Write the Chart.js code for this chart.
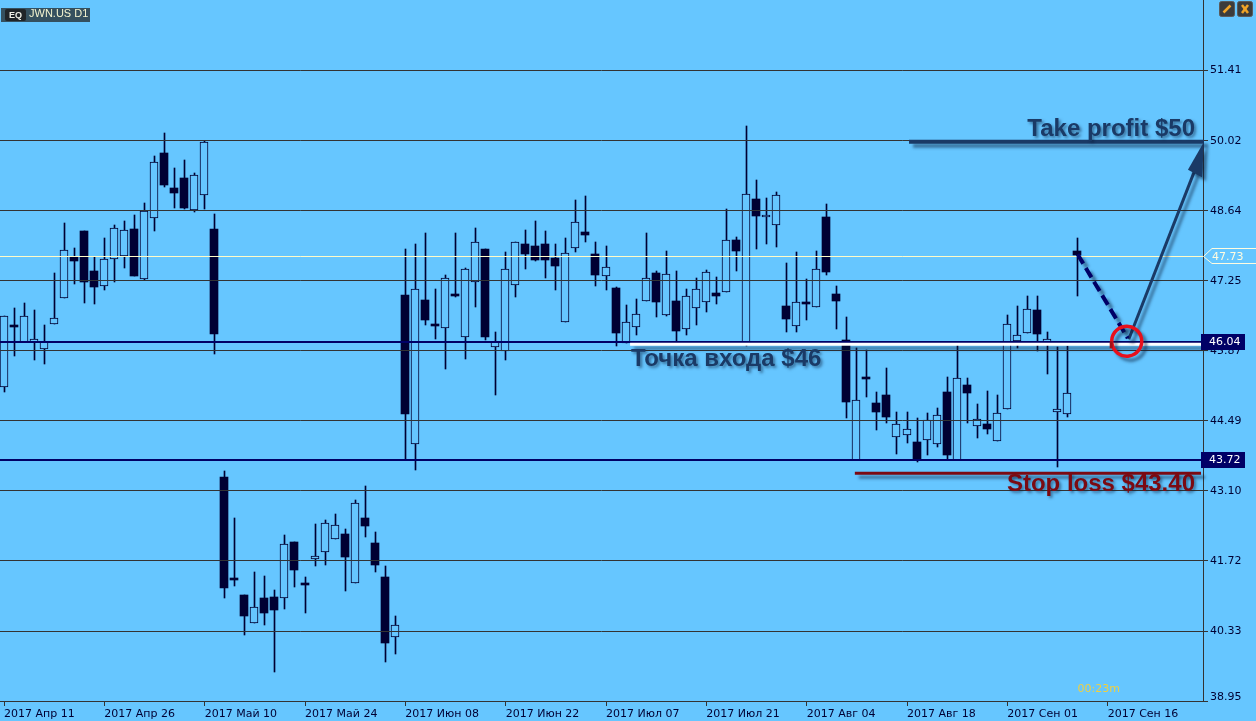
<!DOCTYPE html>
<html>
<head>
<meta charset="utf-8">
<title>JWN.US D1</title>
<style>
  html, body { margin: 0; padding: 0; background: #66c6ff; }
  canvas { display: block; }
</style>
<script src="https://cdn.jsdelivr.net/npm/chart.js@4/dist/chart.umd.js"></script>
</head>
<body>
<canvas id="chart" width="1256" height="721"></canvas>
<script>
const dateLabels = ['2017 Апр 11', '2017 Апр 26', '2017 Май 10', '2017 Май 24', '2017 Июн 08', '2017 Июн 22',
  '2017 Июл 07', '2017 Июл 21', '2017 Авг 04', '2017 Авг 18', '2017 Сен 01', '2017 Сен 16'];
const priceTicks = [38.95, 40.33, 41.72, 43.10, 44.49, 45.87, 47.25, 48.64, 50.02, 51.41];

const opens = [
  45.16,46.38,46.04,46.04,45.91,46.41,46.92,47.72,48.24,47.44,
  47.15,47.68,47.75,48.27,47.28,48.49,49.77,49.08,49.28,48.65,
  48.94,48.27,43.37,41.38,41.04,40.50,40.98,41.00,40.98,42.09,
  41.28,41.76,41.89,42.16,42.26,41.28,42.56,42.07,41.41,40.21,
  46.97,44.02,46.87,46.40,46.32,46.99,46.14,47.24,47.88,45.94,
  45.87,47.18,47.98,47.95,47.99,47.70,46.43,47.90,48.22,47.78,
  47.34,47.11,46.02,46.35,46.86,47.40,46.58,46.85,46.31,46.71,
  46.84,47.01,47.03,48.07,46.00,48.88,48.51,48.35,46.75,46.36,
  46.83,46.73,48.51,46.99,46.08,43.72,45.35,44.83,44.99,44.16,
  44.20,44.06,44.10,44.02,45.05,43.72,45.19,44.38,44.42,44.08,
  44.72,46.07,46.22,46.67,46.02,44.67,44.62,47.84];
const closes = [
  46.55,46.34,46.55,46.10,46.04,46.51,47.86,47.65,47.24,47.14,
  47.68,48.29,48.25,47.34,48.63,49.61,49.15,48.99,48.70,49.34,
  49.99,46.21,41.19,41.37,40.62,40.80,40.68,40.75,42.05,41.54,
  41.27,41.81,42.46,42.42,41.80,42.86,42.41,41.64,40.10,40.45,
  44.63,47.09,46.47,46.38,47.30,46.97,47.48,48.03,46.15,46.04,
  47.48,48.02,47.79,47.67,47.67,47.55,47.80,48.41,48.15,47.36,
  47.52,46.23,46.43,46.59,47.30,46.84,47.39,46.27,46.95,47.09,
  47.42,46.96,48.07,47.85,48.96,48.54,48.55,48.94,46.50,46.83,
  46.80,47.48,47.43,46.86,44.86,44.89,45.34,44.67,44.57,44.42,
  44.32,43.73,44.50,44.60,43.82,45.33,45.04,44.52,44.33,44.64,
  46.41,46.18,46.69,46.21,46.10,44.72,45.03,47.76];
const highs = [
  46.55,46.71,46.81,46.67,46.38,47.40,48.40,47.90,48.24,47.72,
  48.10,48.35,48.43,48.55,48.79,49.73,50.17,49.48,49.64,49.38,
  50.02,48.57,43.50,42.56,41.04,41.49,41.43,41.14,42.24,42.09,
  41.41,42.44,42.52,42.64,42.34,42.92,43.19,42.28,41.61,40.62,
  47.88,47.99,48.19,47.10,47.36,48.19,47.50,48.29,47.88,46.25,
  47.82,48.02,48.25,48.43,48.23,47.99,48.09,48.85,48.93,48.02,
  47.94,47.13,46.77,46.89,48.19,47.44,47.84,47.44,47.09,47.30,
  47.46,47.32,48.67,48.11,50.31,49.24,48.90,49.00,47.60,47.82,
  47.28,47.84,48.77,47.16,46.53,45.92,45.88,45.05,45.54,44.67,
  44.67,44.54,44.65,44.75,45.35,46.00,45.33,44.81,45.07,44.99,
  46.57,46.75,46.95,46.95,46.25,45.94,45.97,48.10];
const lows = [
  45.06,45.77,46.04,45.69,45.60,46.41,46.92,47.20,46.82,46.80,
  47.07,47.24,47.51,47.34,47.26,48.24,49.11,48.70,48.67,48.62,
  48.67,45.81,40.99,41.23,40.26,40.50,40.46,39.53,40.77,41.21,
  40.68,41.62,41.64,42.16,41.13,41.28,42.20,41.49,39.73,39.87,
  43.72,43.52,46.39,46.11,45.52,46.94,45.71,46.74,46.09,45.00,
  45.69,46.94,47.49,47.65,47.30,47.08,46.43,47.83,48.03,47.16,
  47.08,45.97,46.02,46.19,46.86,46.54,46.56,46.05,46.19,46.39,
  46.64,46.80,47.03,47.45,45.97,47.89,47.99,47.93,46.25,46.25,
  46.47,46.73,47.37,46.31,44.55,43.72,44.96,44.31,44.45,43.84,
  44.05,43.68,43.82,43.97,43.72,43.72,44.45,44.15,44.23,44.08,
  44.72,45.93,46.22,45.87,45.42,43.58,44.57,46.95];

const priceLine = 47.73;
const entryLevel = 46.04;
const supportLevel = 43.72;

const bg = '#66c6ff';
const ink = '#000033';
const navy = '#000066';
const grid = '#333333';
const steel = '#1a3a66';
const maroon = '#7b0a12';

const wicks = highs.map((h, i) => ({ x: i, y: [lows[i], h] }));
const upBodies = [];
const downBodies = [];
opens.forEach((o, i) => {
  (closes[i] > o ? upBodies : downBodies).push({ x: i, y: [o, closes[i]] });
});

// keep candles on whole pixels like the terminal does
const snapCandles = {
  id: 'snapCandles',
  afterDatasetsUpdate(chart) {
    chart.data.datasets.forEach((ds, d) => {
      chart.getDatasetMeta(d).data.forEach(el => {
        const col = Math.floor(el.x);
        el.x = ds.label === 'wick' ? col + 0.5 : col;
        el.y = Math.round(el.y);
        el.base = Math.round(el.base);
        if (ds.label !== 'wick' && Math.abs(el.base - el.y) < 2) el.base = el.y + 2;
      });
    });
  }
};

function withShadow(ctx, dist, fn) {
  ctx.save();
  ctx.shadowColor = 'rgba(10,30,60,0.5)';
  ctx.shadowOffsetX = dist;
  ctx.shadowOffsetY = dist;
  ctx.shadowBlur = 3;
  fn();
  ctx.restore();
}

function segment(ctx, x1, y1, x2, y2, color, width, dash) {
  ctx.beginPath();
  ctx.strokeStyle = color;
  ctx.lineWidth = width;
  ctx.setLineDash(dash || []);
  ctx.moveTo(x1, y1);
  ctx.lineTo(x2, y2);
  ctx.stroke();
  ctx.setLineDash([]);
}

function badge(ctx, y, text) {
  ctx.fillStyle = navy;
  ctx.fillRect(1201, Math.round(y) - 8, 44, 16);
  ctx.fillStyle = '#ffffff';
  ctx.font = '11px "DejaVu Sans"';
  ctx.textAlign = 'left';
  ctx.textBaseline = 'middle';
  ctx.fillText(text, 1209, Math.round(y) + 0.5);
}

const overlay = {
  id: 'overlay',
  afterDraw(chart) {
    const ctx = chart.ctx;
    const X = v => chart.scales.x.getPixelForValue(v);
    const Y = v => chart.scales.y.getPixelForValue(v);
    const area = chart.chartArea;
    ctx.save();

    // horizontal levels
    segment(ctx, area.left, Math.floor(Y(priceLine)) + 0.5, area.right, Math.floor(Y(priceLine)) + 0.5, '#fffcc8', 1);
    segment(ctx, area.left, Math.round(Y(entryLevel)), area.right, Math.round(Y(entryLevel)), navy, 2);
    segment(ctx, area.left, Math.round(Y(supportLevel)), area.right, Math.round(Y(supportLevel)), navy, 2);

    // drawn trade plan
    withShadow(ctx, 4, () => {
      segment(ctx, X(62.4), Y(46.0), X(120.3), Y(46.0), '#ffffff', 3);
      segment(ctx, X(90.2), Y(50.0), X(119.6), Y(50.0), steel, 4);
      segment(ctx, X(84.8), Y(43.45), X(119.3), Y(43.45), maroon, 3);
      segment(ctx, X(112.1), Y(46.1), X(119.0), Y(49.6), steel, 3);
      // arrow head
      ctx.beginPath();
      ctx.fillStyle = steel;
      ctx.moveTo(X(119.6), Y(50.0));
      ctx.lineTo(X(118.0), Y(49.45));
      ctx.lineTo(X(119.4), Y(49.3));
      ctx.closePath();
      ctx.fill();
      segment(ctx, X(107), Y(47.78), X(112), Y(46.12), navy, 4, [11, 5]);
    });
    withShadow(ctx, 2, () => {
      ctx.textBaseline = 'alphabetic';
      ctx.fillStyle = steel;
      ctx.font = 'bold 24px "Liberation Sans"';
      ctx.textAlign = 'right';
      ctx.fillText('Take profit $50', X(118.7), Y(50.12));
      ctx.textAlign = 'left';
      ctx.fillText('Точка входа $46', X(62.5), Y(45.57));
      ctx.fillStyle = maroon;
      ctx.textAlign = 'right';
      ctx.fillText('Stop loss $43.40', X(118.7), Y(43.1));
    });
    withShadow(ctx, 4, () => {
      // red ring round the entry
      ctx.beginPath();
      ctx.strokeStyle = '#e8101c';
      ctx.lineWidth = 3.5;
      ctx.arc(X(111.9), Y(46.06), 15, Math.PI * 0.95, Math.PI * 2.95);
      ctx.stroke();
    });
    segment(ctx, X(110.35), Y(46.06), X(110.35), Y(45.92), '#a01018', 3);

    // current price tag
    const py = Math.floor(Y(priceLine)) + 0.5;
    ctx.beginPath();
    ctx.strokeStyle = '#fffce0';
    ctx.lineWidth = 1;
    ctx.moveTo(1256, py - 8);
    ctx.lineTo(1212, py - 8);
    ctx.lineTo(1203.5, py);
    ctx.lineTo(1212, py + 7);
    ctx.lineTo(1256, py + 7);
    ctx.stroke();
    ctx.fillStyle = '#fffce0';
    ctx.font = '11px "DejaVu Sans"';
    ctx.textAlign = 'left';
    ctx.textBaseline = 'middle';
    ctx.fillText(priceLine.toFixed(2), 1212, py + 0.5);

    badge(ctx, Y(entryLevel), entryLevel.toFixed(2));
    badge(ctx, Y(supportLevel), supportLevel.toFixed(2));

    // symbol label
    ctx.fillStyle = '#35505f';
    ctx.fillRect(1, 8, 89, 14);
    ctx.fillStyle = '#202428';
    ctx.beginPath();
    ctx.roundRect(5, 9, 21, 12, 2);
    ctx.fill();
    ctx.fillStyle = '#f0f0e8';
    ctx.font = 'bold 9px "Liberation Sans"';
    ctx.textAlign = 'center';
    ctx.fillText('EQ', 15.5, 15.5);
    ctx.fillStyle = '#f4f4d0';
    ctx.font = '11px "Liberation Sans"';
    ctx.textAlign = 'left';
    ctx.fillText('JWN.US D1', 29, 14);

    // window buttons
    [1219.5, 1237.5].forEach((bx, n) => {
      ctx.beginPath();
      ctx.fillStyle = '#3c3c3c';
      ctx.strokeStyle = '#5a5a5a';
      ctx.lineWidth = 1;
      ctx.roundRect(bx, 1.5, 15, 15, 2);
      ctx.fill();
      ctx.stroke();
      if (n === 0) {
        segment(ctx, bx + 4, 12.5, bx + 11, 5.5, '#f0a428', 2.5);
      } else {
        segment(ctx, bx + 4.5, 5, bx + 10.5, 13, '#f0a428', 2.5);
        segment(ctx, bx + 10.5, 5, bx + 4.5, 13, '#f0a428', 2.5);
      }
    });

    // bar timer
    ctx.fillStyle = '#f0d040';
    ctx.font = '11px "DejaVu Sans"';
    ctx.textAlign = 'left';
    ctx.textBaseline = 'middle';
    ctx.fillText('00:23m', X(107), 689);
    ctx.restore();
  }
};

const barDefaults = { type: 'bar', grouped: false, borderSkipped: false };

new Chart(document.getElementById('chart'), {
  type: 'bar',
  data: {
    datasets: [
      { ...barDefaults, label: 'down', data: downBodies, order: 1, barThickness: 8, backgroundColor: ink, borderWidth: 0 },
      { ...barDefaults, label: 'up', data: upBodies, order: 2, barThickness: 8, backgroundColor: bg, borderColor: ink, borderWidth: 1 },
      { ...barDefaults, label: 'wick', data: wicks, order: 3, barThickness: 1, backgroundColor: ink, borderWidth: 0 }
    ]
  },
  options: {
    responsive: false,
    animation: false,
    events: [],
    layout: { padding: 0 },
    plugins: {
      legend: { display: false },
      title: { display: false },
      tooltip: { enabled: false }
    },
    scales: {
      x: {
        type: 'linear',
        offset: false,
        min: -0.4,
        max: 119.5,
        afterBuildTicks: scale => { scale.ticks = dateLabels.map((_, i) => ({ value: i * 10 })); },
        afterFit: scale => { scale.height = 20; scale.paddingLeft = 0; scale.paddingRight = 0; },
        grid: { offset: false, drawOnChartArea: false, tickLength: 5, tickColor: grid },
        border: { color: grid },
        ticks: {
          autoSkip: false,
          maxRotation: 0,
          align: 'start',
          padding: 2,
          color: ink,
          font: { family: '"DejaVu Sans"', size: 11 },
          callback: v => dateLabels[v / 10]
        }
      },
      y: {
        position: 'right',
        min: 38.95,
        max: 52.803,
        afterBuildTicks: scale => { scale.ticks = priceTicks.map(v => ({ value: v })); },
        afterFit: scale => { scale.width = 53; scale.paddingTop = 0; scale.paddingBottom = 0; },
        grid: { color: grid, tickColor: grid, tickLength: 5, z: 1 },
        // border has to go after the grid, it takes its position from there
        border: { color: grid, z: 1 },
        ticks: {
          autoSkip: false,
          padding: 2,
          color: ink,
          font: { family: '"DejaVu Sans"', size: 11, lineHeight: 0.73 },
          // last label sits above the axis corner
          callback: v => v === 38.95 ? ['38.95', ''] : v.toFixed(2)
        }
      }
    }
  },
  plugins: [snapCandles, overlay]
});
</script>
</body>
</html>
